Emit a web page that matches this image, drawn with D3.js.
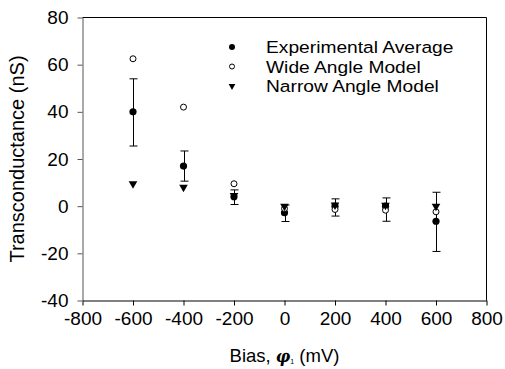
<!DOCTYPE html>
<html>
<head>
<meta charset="utf-8">
<script src="https://cdn.jsdelivr.net/npm/d3@7"></script>
<style>
  body { margin: 0; background: #fff; }
  text { font-family: "Liberation Sans", Arial, sans-serif; fill: #000; }
</style>
</head>
<body>
<div class="chart"></div>
<script>
// chart data
const bias = [-600, -400, -200, 0, 200, 400, 600];
const expAvg = [40, 17, 4, -2.8, 0, 0, -6.4];
const expHigh = [54, 23.4, 6.9, 0.5, 3.1, 3.5, 5.9];
const expLow = [25.5, 10.6, 0.7, -6.5, -4.2, -6.4, -19.2];
const wideModel = [62.5, 42, 9.5, -1, -1.4, -1.7, -2.4];
const narrowModel = [9.5, 8, 4.5, 0, 0.5, 0.4, 0];
const xTicks = [-800, -600, -400, -200, 0, 200, 400, 600, 800];
const yTicks = [-40, -20, 0, 20, 40, 60, 80];
const legendNames = ["Experimental Average", "Wide Angle Model", "Narrow Angle Model"];

const w = 505, h = 369;
const pLeft = 82.5, pRight = 486.5, pTop = 17.5, pBottom = 300.5;

const svg = d3.select(".chart").append("svg")
    .attr("width", w)
    .attr("height", h);

const x = d3.scaleLinear().domain([-800, 800]).range([pLeft, pRight]);
const y = d3.scaleLinear().domain([-40, 80]).range([pBottom, pTop]);

// frame (top and right)
svg.append("path")
    .attr("d", `M${pLeft},${pTop}H${pRight}V${pBottom}`)
    .attr("fill", "none")
    .attr("stroke", "#000");

// axes - plain hyphen for negatives like the original
const plain = d => String(d);
const xAxis = d3.axisBottom(x).tickValues(xTicks).tickFormat(plain).tickSize(5).tickSizeOuter(0).tickPadding(6);
const yAxis = d3.axisLeft(y).tickValues(yTicks).tickFormat(plain).tickSize(5).tickSizeOuter(0).tickPadding(9);

const gx = svg.append("g")
    .attr("transform", `translate(0,${pBottom})`)
    .call(xAxis);
gx.selectAll("text").style("font-size", "19px").attr("fill", "#000");
gx.selectAll("line,path").attr("stroke", "#000");

const gy = svg.append("g")
    .attr("transform", `translate(${pLeft},0)`)
    .call(yAxis);
gy.selectAll("text").style("font-size", "19px").attr("fill", "#000");
gy.selectAll("line,path").attr("stroke", "#555");

// axis titles
const xt = svg.append("text")
    .attr("x", x(0))
    .attr("y", 362)
    .attr("text-anchor", "middle")
    .style("font-size", "18.5px");
xt.append("tspan").text("Bias, ");
xt.append("tspan").text("\u03C6")
    .style("font-family", "'DejaVu Serif', serif")
    .style("font-size", "16px")
    .style("font-weight", "bold")
    .style("font-style", "italic");
xt.append("tspan").text("1").style("font-size", "7px").attr("dy", 2);
xt.append("tspan").text(" (mV)").attr("dy", -2);

svg.append("text")
    .attr("transform", `translate(24,${(pTop + pBottom) / 2}) rotate(-90)`)
    .attr("text-anchor", "middle")
    .style("font-size", "20px")
    .text("Transconductance (nS)");

// error bars
const errs = svg.append("g").attr("stroke", "#000").attr("stroke-width", 1);
bias.forEach((b, i) => {
    const cx = Math.round(x(b)) + 0.5;
    errs.append("line")
        .attr("x1", cx).attr("x2", cx)
        .attr("y1", y(expHigh[i])).attr("y2", y(expLow[i]));
    [expHigh[i], expLow[i]].forEach(v => {
        errs.append("line")
            .attr("x1", cx - 4).attr("x2", cx + 4)
            .attr("y1", y(v)).attr("y2", y(v));
    });
});

const tri = d3.symbol().type(d3.symbolTriangle).size(32);

// experimental average
svg.append("g").selectAll("circle")
    .data(bias)
    .enter()
    .append("circle")
    .attr("cx", d => x(d))
    .attr("cy", (d, i) => y(expAvg[i]))
    .attr("r", 3.6)
    .attr("fill", "#000");

// wide angle model
svg.append("g").selectAll("circle")
    .data(bias)
    .enter()
    .append("circle")
    .attr("cx", d => x(d))
    .attr("cy", (d, i) => y(wideModel[i]))
    .attr("r", 3)
    .attr("fill", "#fff")
    .attr("stroke", "#000");

// narrow angle model
svg.append("g").selectAll("path")
    .data(bias)
    .enter()
    .append("path")
    .attr("d", tri)
    .attr("transform", (d, i) => `translate(${x(d)},${y(narrowModel[i])}) rotate(180)`)
    .attr("fill", "#000");

// legend (text is a bit wide in the original, so stretch it slightly)
const legend = svg.append("g");
const rows = [47, 66.5, 86];
legendNames.forEach((name, i) => {
    const ly = rows[i];
    if (i === 0) {
        legend.append("circle").attr("cx", 232).attr("cy", ly).attr("r", 3).attr("fill", "#000");
    } else if (i === 1) {
        legend.append("circle").attr("cx", 232).attr("cy", ly).attr("r", 2.5)
            .attr("fill", "#fff").attr("stroke", "#000");
    } else {
        legend.append("path").attr("d", d3.symbol().type(d3.symbolTriangle).size(20))
            .attr("transform", `translate(232,${ly}) rotate(180)`).attr("fill", "#000");
    }
    legend.append("text")
        .attr("transform", `translate(266,${ly + 6}) scale(1.13,1)`)
        .style("font-size", "17px")
        .text(name);
});
</script>
</body>
</html>
